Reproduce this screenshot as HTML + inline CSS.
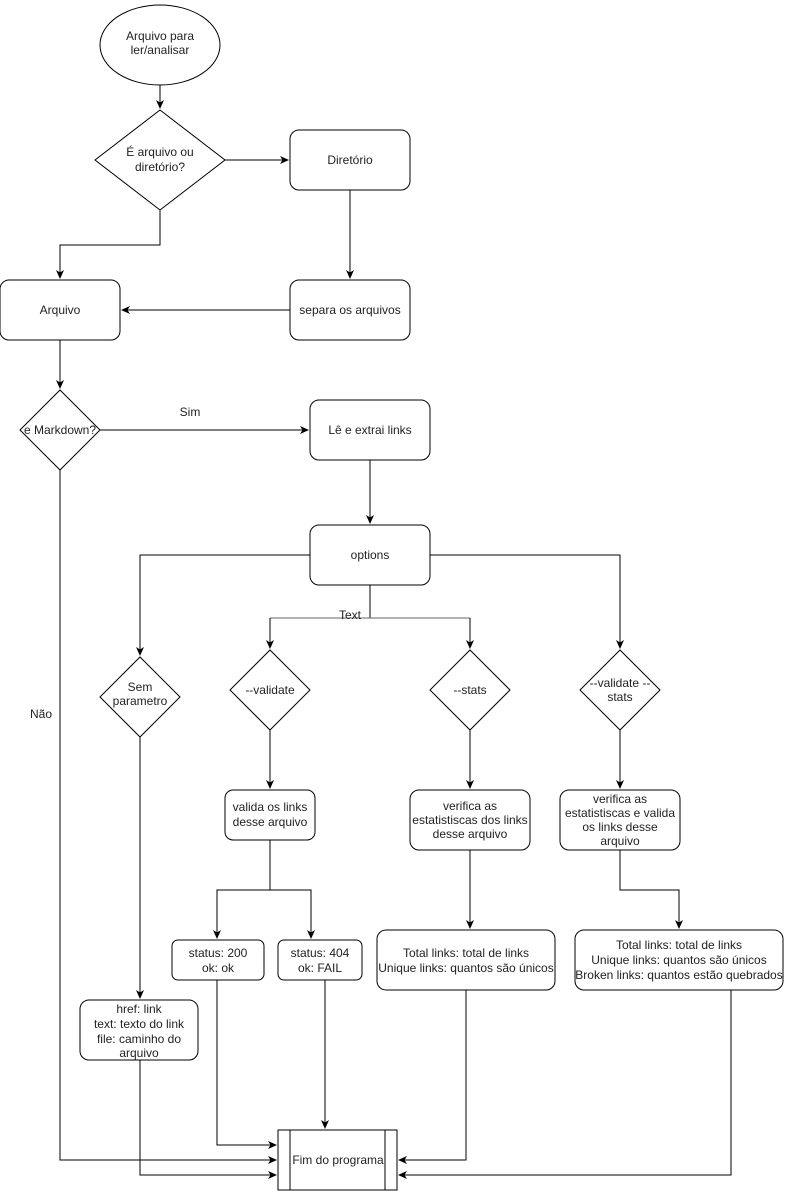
<!DOCTYPE html>
<html><head><meta charset="utf-8"><style>body{margin:0;background:#fff}svg{display:block}text{font-family:"Liberation Sans",Arial,sans-serif;font-size:12px;fill:#222;text-anchor:middle}</style></head><body>
<svg width="791" height="1191" viewBox="0 0 791 1191" xmlns="http://www.w3.org/2000/svg">
<defs><marker id="a" markerWidth="10" markerHeight="10" refX="8" refY="5" orient="auto" markerUnits="userSpaceOnUse"><path d="M0,1 L9,5 L0,9 L2.5,5 Z" fill="#000"/></marker></defs>
<g fill="#fff" stroke="#000" stroke-width="1">
<ellipse cx="160" cy="45" rx="60" ry="40"/>
<polygon points="160,110 225,160 160,210 95,160"/>
<rect x="290" y="130" width="120" height="60" rx="9"/>
<rect x="290" y="280" width="120" height="60" rx="9"/>
<rect x="0" y="280" width="120" height="60" rx="9"/>
<polygon points="60,390 100,430 60,470 20,430"/>
<rect x="310" y="400" width="120" height="60" rx="9"/>
<rect x="310" y="525" width="120" height="60" rx="9"/>
<polygon points="140,657 180,697 140,737 100,697"/>
<polygon points="270,650 310,690 270,730 230,690"/>
<polygon points="470,650 510,690 470,730 430,690"/>
<polygon points="620,650 660,690 620,730 580,690"/>
<rect x="225" y="790" width="90" height="50" rx="8"/>
<rect x="410" y="790" width="120" height="60" rx="9"/>
<rect x="560" y="790" width="120" height="60" rx="9"/>
<rect x="172" y="940" width="92" height="40" rx="6"/>
<rect x="278" y="940" width="84" height="40" rx="6"/>
<rect x="377" y="930" width="178" height="60" rx="9"/>
<rect x="575" y="930" width="208" height="60" rx="9"/>
<rect x="80" y="1000" width="118" height="60" rx="9"/>
<rect x="278" y="1130" width="119" height="60"/>
<line x1="290" y1="1130" x2="290" y2="1190"/><line x1="385" y1="1130" x2="385" y2="1190"/>
</g>
<g fill="none" stroke="#000" stroke-width="1">
<path d="M160,85V108" marker-end="url(#a)"/>
<path d="M225,160H288" marker-end="url(#a)"/>
<path d="M350,190V278" marker-end="url(#a)"/>
<path d="M290,310H122" marker-end="url(#a)"/>
<path d="M160,210V245H60V278" marker-end="url(#a)"/>
<path d="M60,340V388" marker-end="url(#a)"/>
<path d="M100,430H308" marker-end="url(#a)"/>
<path d="M370,460V523" marker-end="url(#a)"/>
<path d="M310,555H140V655" marker-end="url(#a)"/>
<path d="M430,555H620V648" marker-end="url(#a)"/>
<path d="M370,585V618"/>
<path d="M270,618H470" stroke="#666"/>
<path d="M270,618V648" marker-end="url(#a)"/>
<path d="M470,618V648" marker-end="url(#a)"/>
<path d="M270,730V788" marker-end="url(#a)"/>
<path d="M470,730V788" marker-end="url(#a)"/>
<path d="M620,730V788" marker-end="url(#a)"/>
<path d="M270,840V890H217V938" marker-end="url(#a)"/>
<path d="M270,890H311V938" marker-end="url(#a)"/>
<path d="M470,850V928" marker-end="url(#a)"/>
<path d="M620,850V890H679V928" marker-end="url(#a)"/>
<path d="M140,737V998" marker-end="url(#a)"/>
<path d="M217,980V1145H276" marker-end="url(#a)"/>
<path d="M60,470V1160H276" marker-end="url(#a)"/>
<path d="M140,1060V1175H276" marker-end="url(#a)"/>
<path d="M325,980V1128" marker-end="url(#a)"/>
<path d="M466,990V1160H399" marker-end="url(#a)"/>
<path d="M731,990V1175H399" marker-end="url(#a)"/>
</g>
<text x="160" y="40">Arquivo para</text><text x="160" y="54">ler/analisar</text>
<text x="160" y="156">É arquivo ou</text><text x="160" y="171">diretório?</text>
<text x="350" y="164">Diretório</text>
<text x="350" y="314">separa os arquivos</text>
<text x="60" y="314">Arquivo</text>
<text x="60" y="434">e Markdown?</text>
<text x="190" y="416">Sim</text>
<text x="370" y="434">Lê e extrai links</text>
<text x="370" y="559">options</text>
<text x="350" y="619">Text</text>
<text x="140" y="691">Sem</text><text x="140" y="705">parametro</text>
<text x="270" y="694">--validate</text>
<text x="470" y="694">--stats</text>
<text x="620" y="687">--validate --</text><text x="620" y="701">stats</text>
<text x="41" y="718">Não</text>
<text x="270" y="811">valida os links</text><text x="270" y="826">desse arquivo</text>
<text x="470" y="810">verifica as</text><text x="470" y="824">estatistiscas dos links</text><text x="470" y="838">desse arquivo</text>
<text x="620" y="803">verifica as</text><text x="620" y="817">estatistiscas e valida</text><text x="620" y="831">os links desse</text><text x="620" y="845">arquivo</text>
<text x="218" y="957">status: 200</text><text x="218" y="972">ok: ok</text>
<text x="320" y="957">status: 404</text><text x="320" y="972">ok: FAIL</text>
<text x="466" y="957">Total links: total de links</text><text x="466" y="972">Unique links: quantos são únicos</text>
<text x="679" y="949">Total links: total de links</text><text x="679" y="964">Unique links: quantos são únicos</text><text x="679" y="979">Broken links: quantos estão quebrados</text>
<text x="139" y="1013">href: link</text><text x="139" y="1028">text: texto do link</text><text x="139" y="1043">file: caminho do</text><text x="139" y="1057">arquivo</text>
<text x="338" y="1164">Fim do programa</text>
</svg>
</body></html>
